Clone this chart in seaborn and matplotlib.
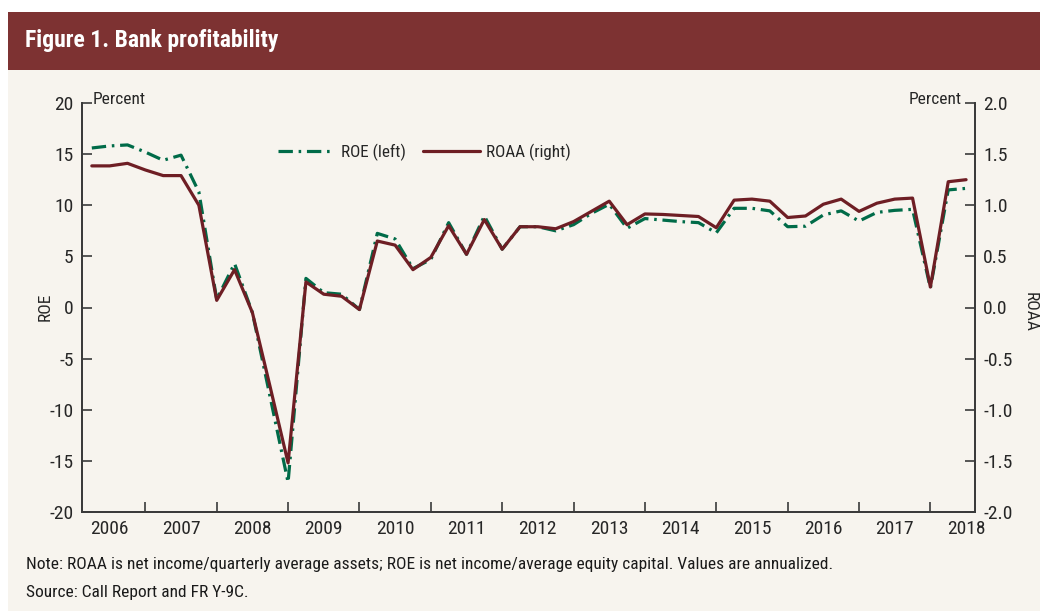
import numpy as np
import pandas as pd
import matplotlib
matplotlib.use('Agg')
import matplotlib.pyplot as plt
import matplotlib.patches as mpatches
import seaborn as sns

# quarterly data, 2006Q1 - 2018Q2
quarters = pd.period_range('2006Q1', '2018Q2', freq='Q').astype(str).tolist()
roe = [15.6, 15.8, 15.9, 15.2, 14.4, 14.9, 11.3, 0.8, 4.3, -0.5, -8.8, -17.1,
       2.85, 1.45, 1.3, -0.2, 7.25, 6.7, 3.8, 4.7, 8.3, 5.2, 8.95, 5.7,
       7.9, 7.9, 7.5, 8.1, 9.2, 10.1, 7.75, 8.7, 8.55, 8.4, 8.3, 7.3,
       9.7, 9.7, 9.45, 7.9, 7.95, 9.05, 9.45, 8.45, 9.3, 9.5, 9.6, 1.9,
       11.5, 11.65]
roaa = [1.385, 1.385, 1.41, 1.345, 1.29, 1.29, 1.0, 0.07, 0.37, -0.05, -0.78, -1.52,
        0.25, 0.13, 0.11, -0.02, 0.65, 0.61, 0.37, 0.49, 0.80, 0.52, 0.86, 0.57,
        0.79, 0.79, 0.77, 0.84, 0.94, 1.04, 0.81, 0.915, 0.91, 0.90, 0.89, 0.78,
        1.05, 1.06, 1.04, 0.88, 0.895, 1.01, 1.06, 0.94, 1.02, 1.06, 1.07, 0.20,
        1.23, 1.25]
years = [str(y) for y in range(2006, 2019)]

df = pd.DataFrame({'q': np.arange(len(quarters)), 'quarter': quarters, 'ROE': roe, 'ROAA': roaa})

sns.set_style('ticks')
plt.rcParams['font.family'] = ['Roboto Condensed', 'Archivo Narrow', 'DejaVu Sans']
plt.rcParams['axes.unicode_minus'] = False

W, H = 1047, 611
fig = plt.figure(figsize=(W / 100, H / 100), dpi=100, facecolor='white')

# header band and panel
fig.patches.append(mpatches.Rectangle((8 / W, 0), 1032 / W, 1 - 70 / H, transform=fig.transFigure,
                                      facecolor='#F7F4EE', edgecolor='none', zorder=-2))
fig.patches.append(mpatches.Rectangle((8 / W, 1 - 70 / H), 1032 / W, 58 / H, transform=fig.transFigure,
                                      facecolor='#7D3232', edgecolor='none', zorder=-1))
fig.text(25 / W, 1 - 41 / H, 'Figure 1. Bank profitability', color='white', fontsize=17,
         fontweight='bold', va='center', ha='left')

ax = fig.add_axes([82 / W, 1 - 512 / H, (975 - 82) / W, (512 - 103) / H])
ax.set_facecolor('none')
ax2 = ax.twinx()

green = '#006B48'
red = '#6E1E24'
sns.lineplot(data=df, x='q', y='ROE', ax=ax, color=green, linewidth=2.3, zorder=2, label='ROE (left)', legend=False)
ax.lines[0].set_linestyle((0, (4.5, 1.8, 0.8, 1.8)))
sns.lineplot(data=df, x='q', y='ROAA', ax=ax2, color=red, linewidth=2.3, label='ROAA (right)', legend=False)

ax.set_xlim(-0.55, 49.5)
ax.set_ylim(-20, 20)
ax2.set_ylim(-2, 2)
ax.set_yticks(range(-20, 21, 5))
ax2.set_yticks(np.arange(-2, 2.01, 0.5))
ax2.set_yticklabels(['%.1f' % v for v in np.arange(-2, 2.01, 0.5)])

# year-end ticks, year labels centred between them
ax.set_xticks(np.arange(3, 48, 4))
ax.set_xticklabels([])
ax.set_xticks(np.arange(1, 50, 4), minor=True)
ax.set_xticklabels(years, minor=True)
ax.tick_params(axis='x', which='major', direction='in', length=7, width=1.2, color='#3a3a3a')
ax.tick_params(axis='x', which='minor', length=0, pad=6, labelsize=14)
ax.tick_params(axis='y', direction='in', length=7, width=1.2, color='#3a3a3a', pad=6, labelsize=14)
ax2.tick_params(axis='y', direction='in', length=7, width=1.2, color='#3a3a3a', pad=6, labelsize=14)

for a in (ax, ax2):
    a.spines['top'].set_visible(False)
    for s in ('left', 'right', 'bottom'):
        a.spines[s].set_color('#3a3a3a')
        a.spines[s].set_linewidth(1.3)
    a.set_xlabel('')
    a.set_ylabel('')

fig.text(93 / W, 1 - 99 / H, 'Percent', fontsize=12.5, va='center', ha='left')
fig.text(962 / W, 1 - 99 / H, 'Percent', fontsize=12.5, va='center', ha='right')
fig.text(45 / W, 1 - 307 / H, 'ROE', fontsize=12.5, rotation=90, va='center', ha='center')
fig.text(1030 / W, 1 - 312 / H, 'ROAA', fontsize=12.5, rotation=270, va='center', ha='center')

handles = ax.get_lines()[:1] + ax2.get_lines()[:1]
fig.legend(handles, ['ROE (left)', 'ROAA (right)'], loc='center left', bbox_to_anchor=(278 / W, 1 - 152 / H),
           ncol=2, frameon=False, fontsize=12.3, handlelength=3.3, handletextpad=0.4, columnspacing=1.0,
           borderpad=0, borderaxespad=0)

fig.text(26 / W, 1 - 564 / H, 'Note: ROAA is net income/quarterly average assets; ROE is net income/average equity capital. Values are annualized.',
         fontsize=12.5, va='center', ha='left', color='#1a1a1a')
fig.text(26 / W, 1 - 592 / H, 'Source: Call Report and FR Y-9C.', fontsize=12.5, va='center', ha='left', color='#1a1a1a')

fig.savefig('out.png', dpi=100, facecolor='white')
